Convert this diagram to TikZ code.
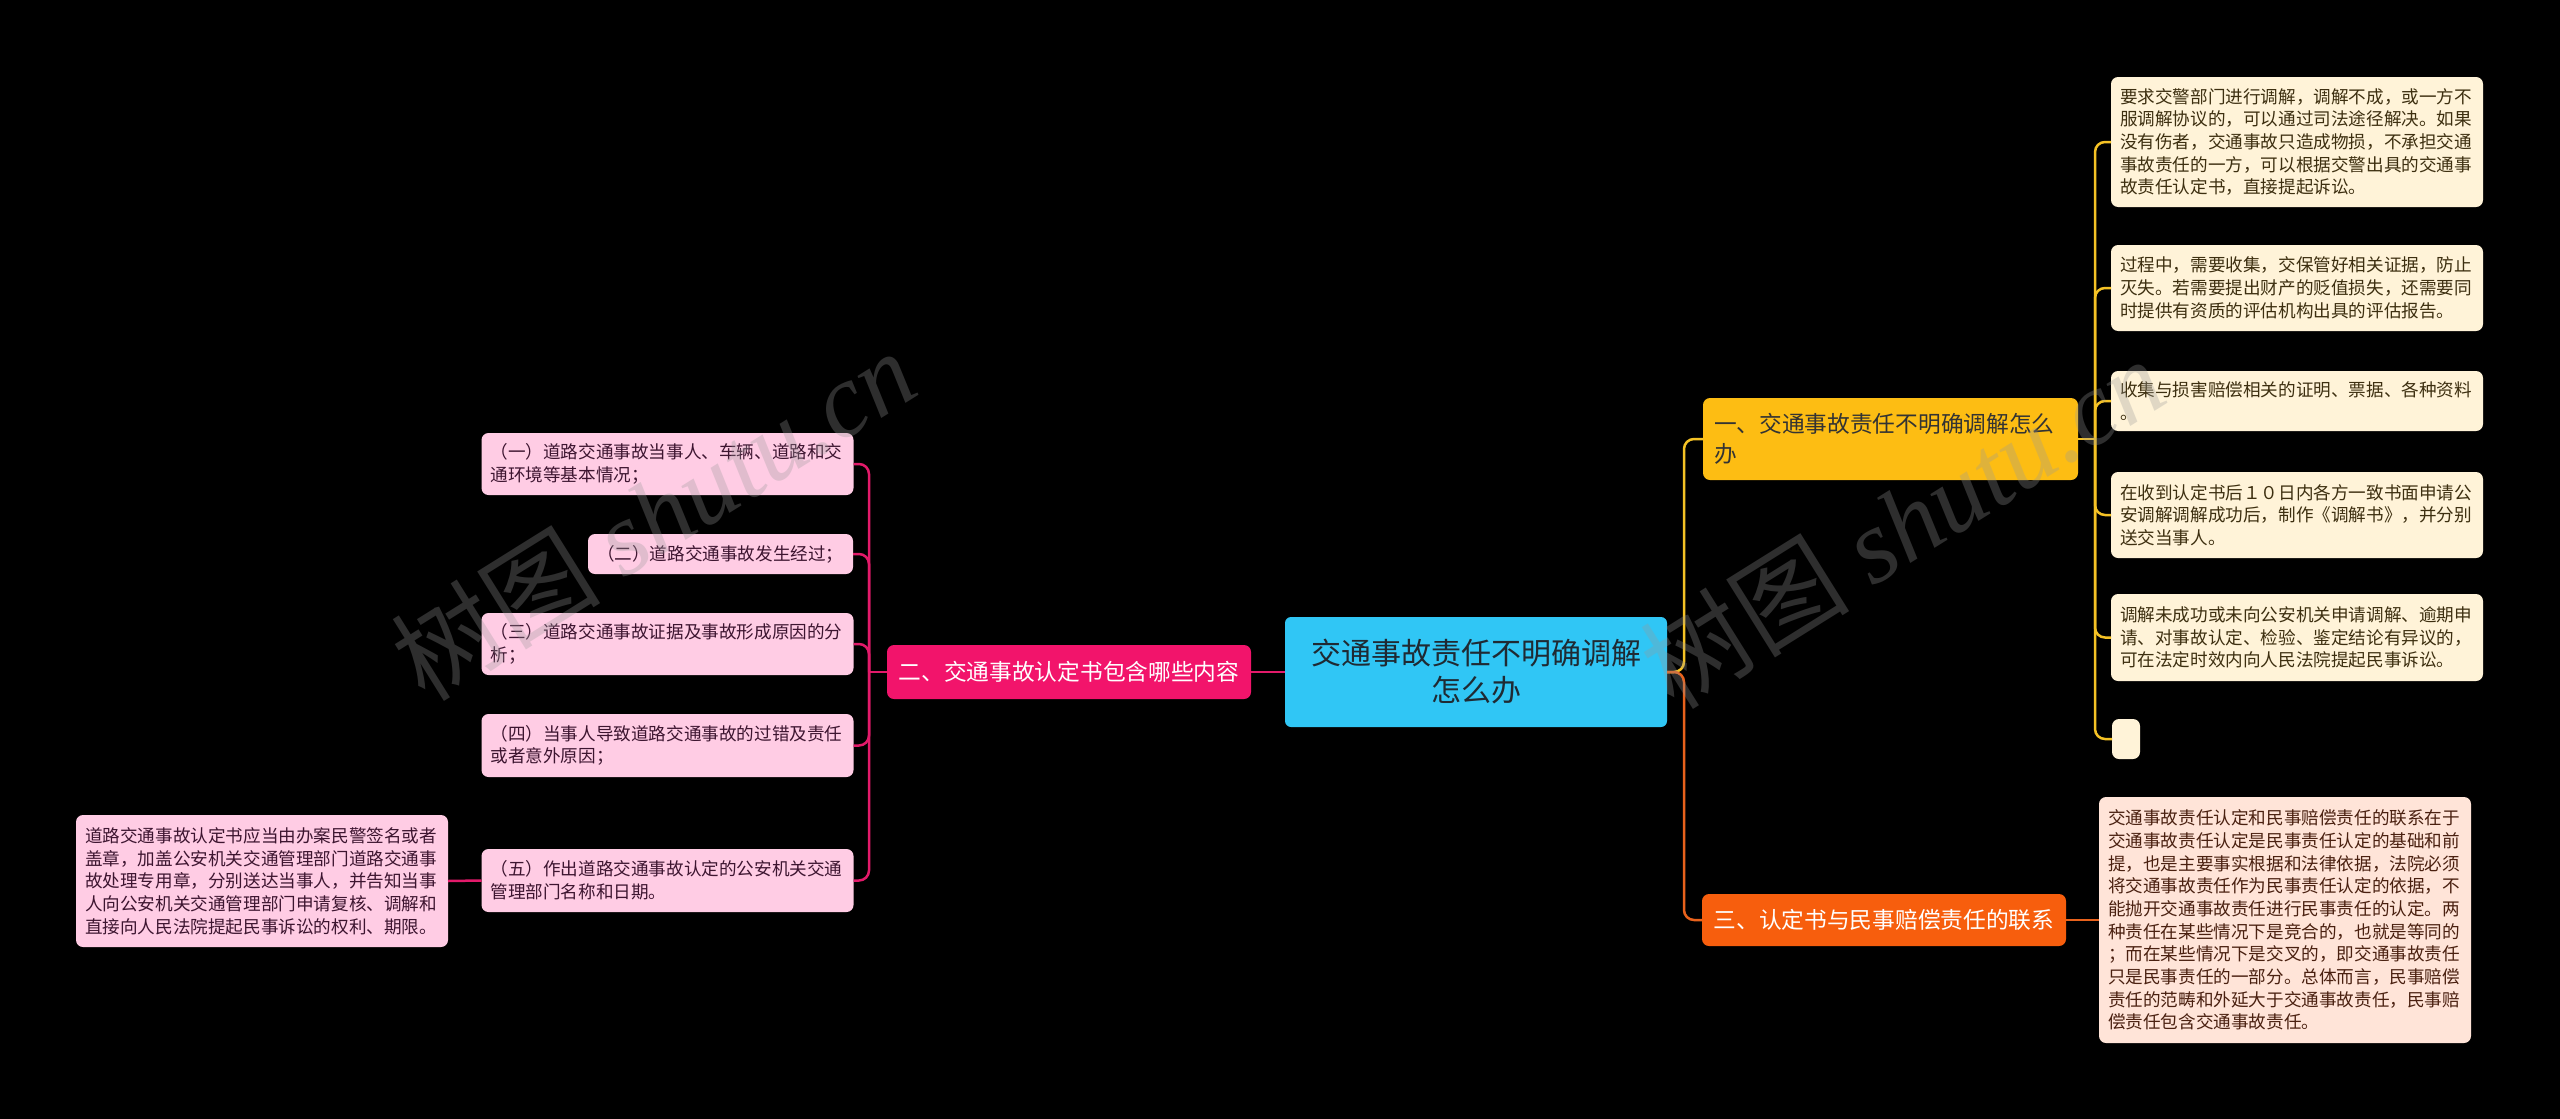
\documentclass[tikz,border=0pt]{standalone}
\usepackage{fontspec}
\setmainfont{Noto Sans CJK SC}
\newfontfamily\wmfont{Liberation Serif}
\definecolor{ylinec}{HTML}{F5C225}
\definecolor{plinec}{HTML}{E31A6A}
\definecolor{olinec}{HTML}{E8621C}
\definecolor{rootc}{HTML}{30C6F5}
\definecolor{ybranchc}{HTML}{FDBD13}
\definecolor{pbranchc}{HTML}{F2146B}
\definecolor{obranchc}{HTML}{F75E0D}
\definecolor{yleafc}{HTML}{FFF3D8}
\definecolor{pleafc}{HTML}{FFCCE4}
\definecolor{oleafc}{HTML}{FFE4D8}
\definecolor{ytextc}{HTML}{3D2F10}
\definecolor{ptextc}{HTML}{3D1530}
\definecolor{otextc}{HTML}{4A2010}
\definecolor{roottextc}{HTML}{1F2A33}
\definecolor{wmc}{HTML}{999999}
\begin{document}
\begin{tikzpicture}[x=1pt,y=-1pt,
  every node/.style={inner sep=0pt, outer sep=0pt},
  leafbase/.style={rounded corners=7pt, align=left, inner xsep=9pt,
    font=\fontsize{17.6}{22.7}\selectfont},
  yleaf/.style={leafbase, fill=yleafc, text=ytextc},
  pleaf/.style={leafbase, fill=pleafc, text=ptextc},
  oleaf/.style={leafbase, fill=oleafc, text=otextc},
  branchbox/.style={rounded corners=7pt, inner xsep=11pt,
    font=\fontsize{22.7}{30}\selectfont},
  rootbox/.style={rounded corners=6pt, fill=rootc, text=roottextc, align=center,
    font=\fontsize{30}{37}\selectfont},
  yconn/.style={draw=ylinec, line width=2.5pt, rounded corners=10pt},
  pconn/.style={draw=plinec, line width=2.5pt, rounded corners=10pt},
  oconn/.style={draw=olinec, line width=2.5pt, rounded corners=10pt},
  wmark/.style={rotate=32, text=wmc, opacity=0.3}
]
\fill[black] (0,0) rectangle (2560,1119);
\useasboundingbox (0,0) rectangle (2560,1119);

% root
\node[rootbox, minimum width=382pt, minimum height=110pt] (root) at (1476,672)
  {交通事故责任不明确调解\\怎么办};

% branches
\node[branchbox, fill=ybranchc, text=black!80, align=left, text width=353pt,
  minimum width=375pt, minimum height=82pt] (b1) at (1890.5,439)
  {一、交通事故责任不明确调解怎么\\办};
\node[branchbox, fill=pbranchc, text=white, align=center,
  minimum width=364pt, minimum height=54pt] (b2) at (1069,672)
  {二、交通事故认定书包含哪些内容};
\node[branchbox, fill=obranchc, text=white, align=center,
  minimum width=364pt, minimum height=52pt] (b3) at (1884,920)
  {三、认定书与民事赔偿责任的联系};

% yellow leaves
\node[yleaf, text width=354pt, minimum width=372pt, minimum height=130pt] (y1) at (2297,142)
  {要求交警部门进行调解，调解不成，或一方不\\服调解协议的，可以通过司法途径解决。如果\\没有伤者，交通事故只造成物损，不承担交通\\事故责任的一方，可以根据交警出具的交通事\\故责任认定书，直接提起诉讼。};
\node[yleaf, text width=354pt, minimum width=372pt, minimum height=86pt] (y2) at (2297,288)
  {过程中，需要收集，交保管好相关证据，防止\\灭失。若需要提出财产的贬值损失，还需要同\\时提供有资质的评估机构出具的评估报告。};
\node[yleaf, text width=354pt, minimum width=372pt, minimum height=60pt] (y3) at (2297,401)
  {收集与损害赔偿相关的证明、票据、各种资料\\。};
\node[yleaf, text width=354pt, minimum width=372pt, minimum height=86pt] (y4) at (2297,515)
  {在收到认定书后１０日内各方一致书面申请公\\安调解调解成功后，制作《调解书》，并分别\\送交当事人。};
\node[yleaf, text width=354pt, minimum width=372pt, minimum height=87pt] (y5) at (2297,637.5)
  {调解未成功或未向公安机关申请调解、逾期申\\请、对事故认定、检验、鉴定结论有异议的，\\可在法定时效内向人民法院提起民事诉讼。};
\node[yleaf, inner xsep=0pt, minimum width=28pt, minimum height=40pt] (y6) at (2126,739) {};

% pink leaves
\node[pleaf, text width=354pt, minimum width=371pt, minimum height=62pt] (p1) at (667.5,464)
  {（一）道路交通事故当事人、车辆、道路和交\\通环境等基本情况；};
\node[pleaf, text width=247pt, minimum width=265pt, minimum height=40pt] (p2) at (720.5,554)
  {（二）道路交通事故发生经过；};
\node[pleaf, text width=354pt, minimum width=371pt, minimum height=62pt] (p3) at (667.5,644)
  {（三）道路交通事故证据及事故形成原因的分\\析；};
\node[pleaf, text width=354pt, minimum width=371pt, minimum height=63pt] (p4) at (667.5,745.5)
  {（四）当事人导致道路交通事故的过错及责任\\或者意外原因；};
\node[pleaf, text width=354pt, minimum width=371pt, minimum height=63pt] (p5) at (667.5,880.5)
  {（五）作出道路交通事故认定的公安机关交通\\管理部门名称和日期。};
\node[pleaf, text width=354pt, minimum width=372pt, minimum height=132pt] (p6) at (262,881)
  {道路交通事故认定书应当由办案民警签名或者\\盖章，加盖公安机关交通管理部门道路交通事\\故处理专用章，分别送达当事人，并告知当事\\人向公安机关交通管理部门申请复核、调解和\\直接向人民法院提起民事诉讼的权利、期限。};

% orange leaf
\node[oleaf, text width=354pt, minimum width=372pt, minimum height=246pt] (o1) at (2285,920)
  {交通事故责任认定和民事赔偿责任的联系在于\\交通事故责任认定是民事责任认定的基础和前\\提，也是主要事实根据和法律依据，法院必须\\将交通事故责任作为民事责任认定的依据，不\\能抛开交通事故责任进行民事责任的认定。两\\种责任在某些情况下是竞合的，也就是等同的\\；而在某些情况下是交叉的，即交通事故责任\\只是民事责任的一部分。总体而言，民事赔偿\\责任的范畴和外延大于交通事故责任，民事赔\\偿责任包含交通事故责任。};

% trunk coordinates
\coordinate (rt) at (1684,672);
\coordinate (yt) at (2095,439);
\coordinate (pt) at (869,672);

% root connectors
\draw[yconn] (root.east) -- (rt) |- (b1.west);
\draw[oconn] (root.east) -- (rt) |- (b3.west);
\draw[pconn] (root.west) -- (b2.east);

% yellow leaf connectors
\draw[yconn] (b1.east) -- (yt);
\foreach \n in {y1,y2,y3,y4,y5,y6}{
  \draw[yconn] (yt) |- (\n.west);
}

% pink leaf connectors
\draw[pconn] (b2.west) -- (pt);
\foreach \n in {p1,p2,p3,p4,p5}{
  \draw[pconn] (pt) |- (\n.east);
}
\draw[pconn] (p5.west) -- (p6.east);

% orange leaf connector
\draw[oconn] (b3.east) -- (o1.west);

% watermarks
\node[wmark] (wm1) at (653,514)
  {\fontsize{105}{105}\selectfont 树图 {\wmfont\itshape shutu.cn}};
\node[wmark] (wm2) at (1902,522)
  {\fontsize{105}{105}\selectfont 树图 {\wmfont\itshape shutu.cn}};
\end{tikzpicture}
\end{document}
